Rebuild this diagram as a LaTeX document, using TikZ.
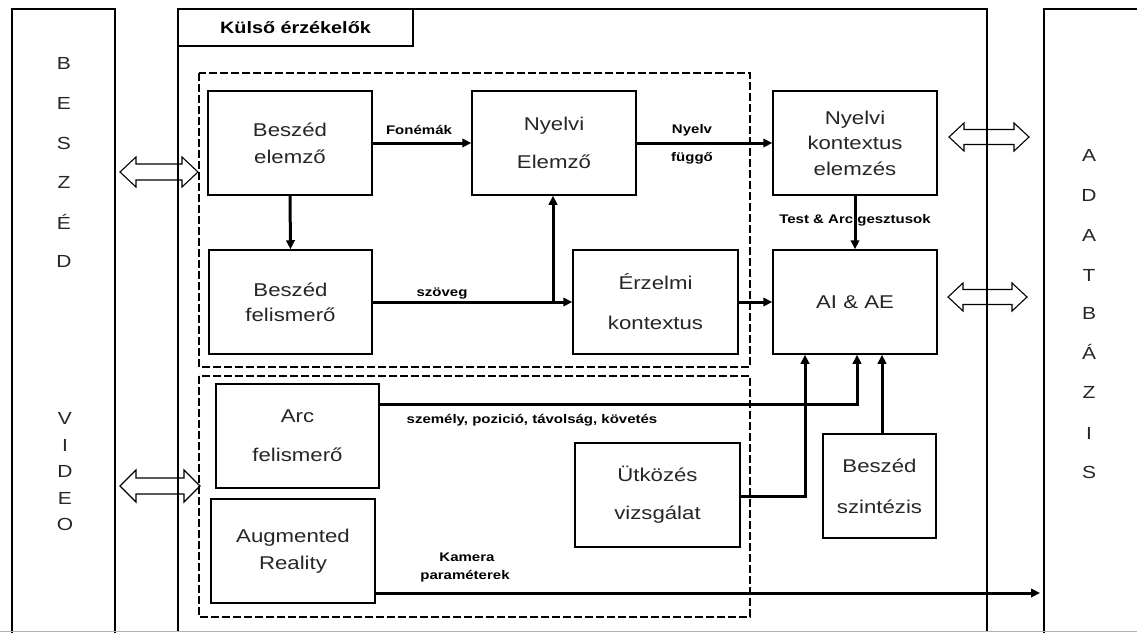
\documentclass[tikz,border=0pt]{standalone}
\usepackage{fontspec}
\setmainfont{Liberation Sans}[FakeStretch=1.2]
\usetikzlibrary{arrows.meta}
\tikzset{
  bx/.style={draw, line width=1.5pt, rectangle, inner sep=0pt, align=center, text=black!85, font=\fontsize{18.5}{#1}\selectfont},
  bx/.default=27,
  conn/.style={line width=3pt, -{Triangle[length=9pt,width=8.5pt]}},
  lbl/.style={font=\bfseries\fontsize{12.5}{15}\selectfont, inner sep=0pt},
  pletter/.style={font=\fontsize{17.5}{20}\selectfont, inner sep=0pt, text=black!85},
  panel/.style={draw, line width=1.4pt},
  dbox/.style={draw, line width=2.4pt, dash pattern=on 8pt off 3pt},
  harrow/.style={draw, line width=1.1pt, line join=miter},
}
\newcommand\hdarrow[6]{%
  \draw[harrow] ({#1},{#3}) -- ({#1+#6},{#3-#4}) -- ({#1+#6},{#3-#5}) -- ({#2-#6},{#3-#5}) -- ({#2-#6},{#3-#4}) -- ({#2},{#3}) -- ({#2-#6},{#3+#4}) -- ({#2-#6},{#3+#5}) -- ({#1+#6},{#3+#5}) -- ({#1+#6},{#3+#4}) -- cycle;}
\begin{document}
\begin{tikzpicture}[x=1pt,y=-1pt]
\useasboundingbox (0,0) rectangle (1137,633);
\fill[white] (0,0) rectangle (1137,633);
% panels
\draw[panel] (12,633) -- (12,9) -- (115,9) -- (115,633);
\draw[panel] (178,631) -- (178,9) -- (987,9) -- (987,631);
\draw[panel] (1044,633) -- (1044,9) -- (1140,9);
\draw[gray!60, line width=1pt] (0,631.5) -- (1137,631.5);
\node[draw, line width=1.4pt, minimum width=235pt, minimum height=37pt, inner sep=0pt,
      font=\bfseries\fontsize{16.5}{20}\selectfont] (title) at (295.5,27.5) {Külső érzékelők};
% panel letters
\foreach \l/\y [count=\i] in {B/63,E/103,S/143,Z/182,É/222,D/261}
  \node[pletter] (bs\i) at (64,\y) {\l};
\foreach \l/\y [count=\i] in {V/418,I/445,D/471,E/498,O/524}
  \node[pletter] (vd\i) at (65,\y) {\l};
\foreach \l/\y [count=\i] in {A/155,D/195,A/235,T/275,B/313,Á/352,Z/392,I/433,S/472}
  \node[pletter] (db\i) at (1089,\y) {\l};
% dashed groups
\draw[dbox] (199,73) rectangle (750,367);
\draw[dbox] (199,376) rectangle (750,617);
% boxes
\node[bx, minimum width=164pt, minimum height=104pt] (be) at (290,143) {Beszéd\\elemző};
\node[bx=38, minimum width=164pt, minimum height=104pt] (ne) at (554,143) {Nyelvi\\Elemző};
\node[bx=25.5, minimum width=164pt, minimum height=104pt] (nk) at (855,143) {Nyelvi\\kontextus\\elemzés};
\node[bx=25, minimum width=163pt, minimum height=104pt] (bf) at (290.5,302) {Beszéd\\felismerő};
\node[bx=40, minimum width=165pt, minimum height=104pt] (ez) at (655.5,302) {Érzelmi\\kontextus};
\node[bx, minimum width=164pt, minimum height=104pt] (ai) at (855,302) {AI \& AE};
\node[bx=39, minimum width=163pt, minimum height=104pt] (ar) at (297.5,436) {Arc\\felismerő};
\node[bx, minimum width=164pt, minimum height=104pt] (aug) at (293,551) {Augmented\\Reality};
\node[bx=38, minimum width=165pt, minimum height=104pt] (ut) at (657.5,495) {Ütközés\\vizsgálat};
\node[bx=41, minimum width=113pt, minimum height=104pt] (sz) at (879.5,486) {Beszéd\\szintézis};
% hollow double arrows
\hdarrow{120}{198}{172}{15}{8}{16}
\hdarrow{120}{200}{486}{16}{8}{16}
\hdarrow{949}{1029}{137}{14}{7.5}{15}
\hdarrow{948}{1027}{297}{14}{7.5}{15}
% labels
\node[lbl] (lfon) at (419,130) {Fonémák};
\node[lbl] (lny1) at (692,130) {Nyelv};
\node[lbl] (lny2) at (692,158) {függő};
\node[lbl] (lszo) at (442,293) {szöveg};
\node[lbl] (ltest) at (855,220) {Test \& Arc gesztusok};
\node[lbl] (lsz) at (532,420) {személy, pozició, távolság, követés};
\node[lbl] (lkam1) at (467,557) {Kamera};
\node[lbl] (lkam2) at (465,576) {paraméterek};
% coordinates
\coordinate (br) at (553,302);
\coordinate (c1) at (857,404);
\coordinate (c2) at (805,496);
\coordinate (c3) at (1040,593);
\coordinate (c4) at (882,0);
% connectors
\draw[conn] (be.east) -- (ne.west);
\draw[conn] (ne.east) -- (nk.west);
\draw[conn] (be.south) -- (bf.north);
\draw[conn] (bf.east) -- (ez.west);
\draw[conn] (br) -- (br |- ne.south);
\draw[conn] (ez.east) -- (ai.west);
\draw[conn] (nk.south) -- (ai.north);
\draw[conn] (ar.east |- c1) -- (c1) -- (c1 |- ai.south);
\draw[conn] (ut.east |- c2) -- (c2) -- (c2 |- ai.south);
\draw[conn] (c4 |- sz.north) -- (c4 |- ai.south);
\draw[conn] (aug.east |- c3) -- (c3);
\end{tikzpicture}
\end{document}
